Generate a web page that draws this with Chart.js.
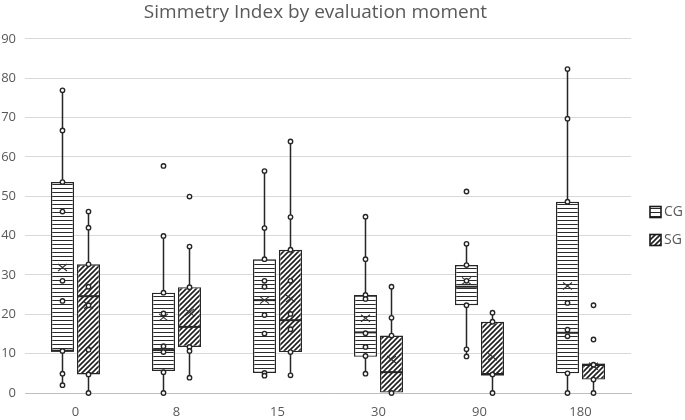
<!DOCTYPE html>
<html><head><meta charset="utf-8">
<script src="https://cdn.jsdelivr.net/npm/chart.js@4/dist/chart.umd.min.js"></script>
<style>html,body{margin:0;padding:0;background:#fff}</style>
</head><body>
<canvas id="c" width="685" height="420"></canvas>
<script>
// ---- data ----
const categories = ['0', '8', '15', '30', '90', '180'];
const yTicks = [0, 10, 20, 30, 40, 50, 60, 70, 80, 90];

const cgMin    = [1.9, 0.0, 4.4, 4.9, 9.3, 0.0];
const cgQ1     = [10.7, 5.6, 5.1, 9.2, 22.3, 5.0];
const cgMedian = [10.7, 10.9, 23.6, 15.4, 27.0, 15.3];
const cgQ3     = [53.6, 25.5, 34.0, 24.9, 32.5, 48.6];
const cgMax    = [76.9, 39.9, 56.4, 44.8, 37.9, 82.3];
const cgMean   = [31.9, 19.2, 23.6, 19.0, 28.5, 27.2];
const cgPoints = [
  [76.9, 66.7, 53.6, 46.1, 28.5, 23.4, 10.7, 4.9, 2.0],
  [39.9, 25.5, 20.2, 11.9, 10.4, 5.3, 0.0],
  [56.4, 41.9, 34.0, 28.5, 27.0, 19.8, 15.1, 5.1, 4.4],
  [44.8, 34.0, 24.9, 23.9, 15.2, 11.7, 9.4, 4.9],
  [37.9, 32.5, 28.5, 22.3, 11.1, 9.3],
  [82.3, 69.7, 48.6, 22.9, 16.1, 14.4, 5.0, 0.0]
];
const cgOutliers = [[], [57.7], [], [], [51.2], []];

const sgMin    = [0.0, 3.9, 4.5, 0.0, 0.0, 0.0];
const sgQ1     = [4.7, 11.7, 10.4, 0.1, 4.7, 3.4];
const sgMedian = [24.6, 16.8, 18.5, 5.3, 4.7, 7.2];
const sgQ3     = [32.7, 26.9, 36.4, 14.6, 18.1, 7.2];
const sgMax    = [46.1, 37.2, 63.9, 27.0, 20.4, 7.2];
const sgMean   = [22.3, 20.5, 24.0, 8.5, 9.2, 6.8];
const sgPoints = [
  [46.1, 42.0, 32.7, 27.0, 22.3, 11.0, 4.7, 0.0],
  [37.2, 26.9, 11.7, 10.7, 3.9],
  [63.9, 44.7, 36.4, 28.5, 20.1, 16.2, 10.4, 4.5],
  [27.0, 19.1, 14.6, 0.0],
  [20.4, 18.1, 4.7, 0.0],
  [7.2, 3.4, 0.0]
];
const sgOutliers = [[], [49.9], [], [], [], [22.3, 13.6]];

// ---- patterns ----
const mainCtx = document.getElementById('c').getContext('2d');
function stripePattern() {
  const t = document.createElement('canvas'); t.width = 4; t.height = 4;
  const x = t.getContext('2d');
  x.fillStyle = '#ffffff'; x.fillRect(0, 0, 4, 4);
  x.fillStyle = '#2b2b2b'; x.fillRect(0, 0, 4, 1);
  return mainCtx.createPattern(t, 'repeat');
}
function hatchPattern() {
  const s = 5;
  const t = document.createElement('canvas'); t.width = s; t.height = s;
  const x = t.getContext('2d');
  x.fillStyle = '#ffffff'; x.fillRect(0, 0, s, s);
  x.strokeStyle = '#1f1f1f'; x.lineWidth = 1.6;
  x.beginPath();
  x.moveTo(-1, s + 1); x.lineTo(s + 1, -1);
  x.moveTo(-1, 1); x.lineTo(1, -1);
  x.moveTo(s - 1, s + 1); x.lineTo(s + 1, s - 1);
  x.stroke();
  return mainCtx.createPattern(t, 'repeat');
}
const cgFill = stripePattern();
const sgFill = hatchPattern();

const groups = [
  {label: 'CG', min: cgMin, q1: cgQ1, med: cgMedian, q3: cgQ3, max: cgMax, mean: cgMean, pts: cgPoints, out: cgOutliers, fill: cgFill},
  {label: 'SG', min: sgMin, q1: sgQ1, med: sgMedian, q3: sgQ3, max: sgMax, mean: sgMean, pts: sgPoints, out: sgOutliers, fill: sgFill}
];

const ink = '#262626';
const boxExtras = {
  id: 'boxExtras',
  afterDatasetsDraw(chart) {
    const ctx = chart.ctx, ys = chart.scales.y;
    groups.forEach((g, di) => {
      const meta = chart.getDatasetMeta(di);
      meta.data.forEach((bar, i) => {
        const x = bar.x, half = bar.width / 2;
        ctx.save();
        ctx.strokeStyle = ink; ctx.lineCap = 'butt';
        ctx.lineWidth = 1.5;
        ctx.beginPath();
        ctx.moveTo(x, ys.getPixelForValue(g.max[i])); ctx.lineTo(x, ys.getPixelForValue(g.q3[i]));
        ctx.moveTo(x, ys.getPixelForValue(g.q1[i])); ctx.lineTo(x, ys.getPixelForValue(g.min[i]));
        ctx.stroke();
        ctx.lineWidth = 2;
        ctx.beginPath();
        const my = ys.getPixelForValue(g.med[i]);
        ctx.moveTo(x - half, my); ctx.lineTo(x + half, my);
        ctx.stroke();
        const ay = ys.getPixelForValue(g.mean[i]);
        ctx.lineWidth = 1.1;
        ctx.strokeStyle = '#333333';
        ctx.beginPath();
        ctx.moveTo(x - 4.5, ay - 3.5); ctx.lineTo(x + 4.5, ay + 3.5);
        ctx.moveTo(x - 4.5, ay + 3.5); ctx.lineTo(x + 4.5, ay - 3.5);
        ctx.stroke();
        ctx.strokeStyle = ink; ctx.lineWidth = 1.4; ctx.fillStyle = '#ffffff';
        g.pts[i].concat(g.out[i]).forEach(v => {
          ctx.beginPath();
          ctx.arc(x, ys.getPixelForValue(v), 2.2, 0, Math.PI * 2);
          ctx.fill(); ctx.stroke();
        });
        ctx.restore();
      });
    });
  },
  afterDraw(chart) {
    const ctx = chart.ctx;
    ctx.save();
    const lx = chart.chartArea.right + 19;
    const ly0 = 212, step = 28;
    groups.forEach((g, k) => {
      const cy = ly0 + k * step;
      ctx.fillStyle = g.fill;
      ctx.fillRect(lx, cy - 5.5, 11, 11);
      ctx.strokeStyle = '#1a1a1a'; ctx.lineWidth = 1.6;
      ctx.strokeRect(lx, cy - 5.5, 11, 11);
      ctx.fillStyle = '#595959';
      ctx.font = '14px "Open Sans"';
      ctx.textBaseline = 'middle';
      ctx.fillText(g.label, lx + 14, cy);
    });
    ctx.restore();
  }
};

new Chart(mainCtx, {
  type: 'bar',
  data: {
    labels: categories,
    datasets: groups.map(g => ({
      label: g.label,
      data: categories.map((_, i) => [g.q1[i], g.q3[i]]),
      backgroundColor: g.fill,
      borderColor: ink,
      borderWidth: 1.4,
      borderSkipped: false,
      barPercentage: 0.885,
      categoryPercentage: 0.515
    }))
  },
  options: {
    responsive: false,
    animation: false,
    devicePixelRatio: 1,
    layout: {padding: {left: 0, right: 54, top: 0, bottom: 0}},
    plugins: {
      legend: {display: false},
      tooltip: {enabled: false},
      title: {
        display: true,
        text: 'Simmetry Index by evaluation moment',
        color: '#595959',
        font: {size: 19, family: 'Open Sans', weight: 'normal'},
        padding: {top: 1, bottom: 15}
      }
    },
    scales: {
      x: {
        grid: {display: false, drawTicks: false},
        border: {color: '#bfbfbf', width: 1},
        afterFit: s => { s.height = 27; },
        ticks: {color: '#595959', font: {size: 13, family: 'Open Sans'}, padding: 11}
      },
      y: {
        min: 0, max: 90,
        afterBuildTicks: s => { s.ticks = yTicks.map(v => ({value: v})); },
        afterFit: s => { s.width = 25; },
        grid: {color: '#d9d9d9', lineWidth: 1, drawTicks: false},
        border: {display: false},
        ticks: {color: '#595959', font: {size: 13, family: 'Open Sans'}, padding: 9}
      }
    }
  },
  plugins: [boxExtras]
});
</script>
</body></html>
